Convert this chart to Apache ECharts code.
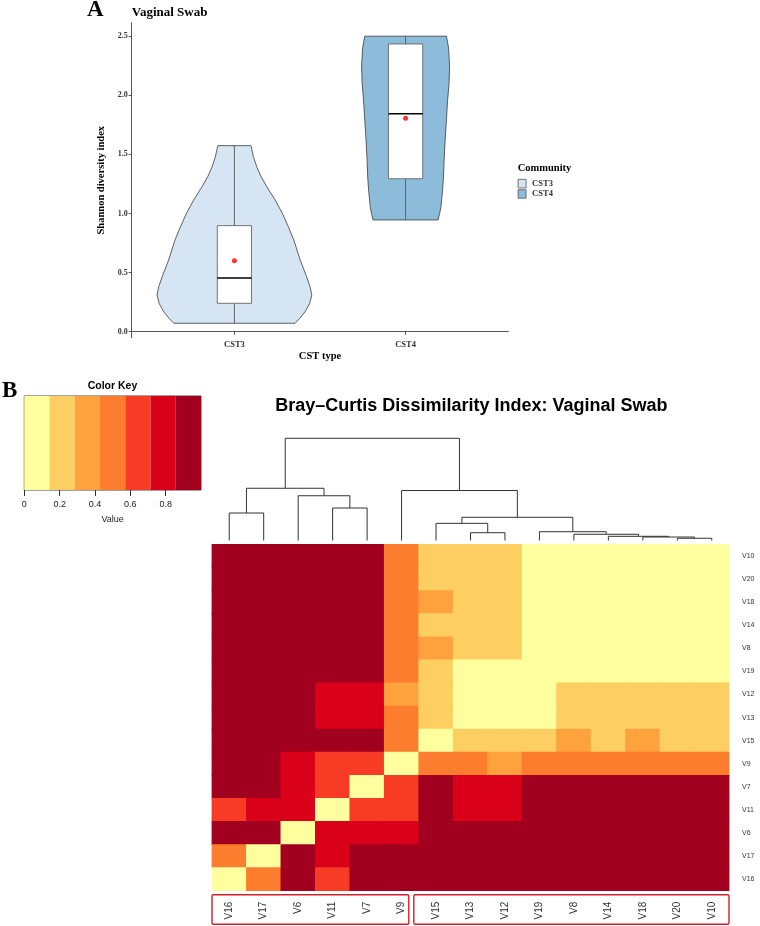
<!DOCTYPE html>
<html><head><meta charset="utf-8">
<script src="https://cdn.jsdelivr.net/npm/echarts@6/dist/echarts.min.js"></script>
<style>html,body{margin:0;padding:0;background:#fff}#c{width:760px;height:926px}</style>
</head><body><div id="c"></div>
<script>
// ---------- Panel A data ----------
const cstGroups = ['CST3', 'CST4'];
// violin outline: [Shannon index, half-width in x units]
const violinCST3 = [[1.574,0.097],[1.481,0.111],[1.396,0.130],[1.311,0.156],[1.227,0.189],[1.114,0.238],[1.002,0.280],[0.888,0.315],[0.776,0.347],[0.607,0.384],[0.465,0.422],[0.381,0.442],[0.310,0.452],[0.240,0.440],[0.169,0.413],[0.113,0.382],[0.071,0.354]];
const violinCST4 = [[2.500,0.239],[2.400,0.251],[2.250,0.257],[2.100,0.254],[1.950,0.245],[1.800,0.239],[1.620,0.231],[1.450,0.225],[1.300,0.221],[1.200,0.216],[1.060,0.207],[1.000,0.199],[0.945,0.190]];
// min, q1, median, q3, max
const boxCST3 = [0.071, 0.240, 0.454, 0.897, 1.574];
const boxCST4 = [0.945, 1.294, 1.844, 2.434, 2.500];
const meanShannon = [0.600, 1.805];
const yTicksA = [0, 0.5, 1, 1.5, 2, 2.5];

// ---------- Panel B data ----------
const heatCols = ['V16','V17','V6','V11','V7','V9','V15','V13','V12','V19','V8','V14','V18','V20','V10'];
const heatRows = ['V10','V20','V18','V14','V8','V19','V12','V13','V15','V9','V7','V11','V6','V17','V16'];
const dissim = [
 [0.93,0.93,0.93,0.93,0.93,0.50,0.22,0.22,0.22,0.08,0.08,0.08,0.08,0.08,0.00],
 [0.93,0.93,0.93,0.93,0.93,0.50,0.22,0.22,0.22,0.08,0.08,0.08,0.08,0.00,0.08],
 [0.93,0.93,0.93,0.93,0.93,0.50,0.36,0.22,0.22,0.08,0.08,0.08,0.00,0.08,0.08],
 [0.93,0.93,0.93,0.93,0.93,0.50,0.22,0.22,0.22,0.08,0.08,0.00,0.08,0.08,0.08],
 [0.93,0.93,0.93,0.93,0.93,0.50,0.36,0.22,0.22,0.08,0.00,0.08,0.08,0.08,0.08],
 [0.93,0.93,0.93,0.93,0.93,0.50,0.22,0.08,0.08,0.00,0.08,0.08,0.08,0.08,0.08],
 [0.93,0.93,0.93,0.78,0.78,0.36,0.22,0.08,0.00,0.08,0.22,0.22,0.22,0.22,0.22],
 [0.93,0.93,0.93,0.78,0.78,0.50,0.22,0.00,0.08,0.08,0.22,0.22,0.22,0.22,0.22],
 [0.93,0.93,0.93,0.93,0.93,0.50,0.00,0.22,0.22,0.22,0.36,0.22,0.36,0.22,0.22],
 [0.93,0.93,0.78,0.64,0.64,0.00,0.50,0.50,0.36,0.50,0.50,0.50,0.50,0.50,0.50],
 [0.93,0.93,0.78,0.64,0.00,0.64,0.93,0.78,0.78,0.93,0.93,0.93,0.93,0.93,0.93],
 [0.64,0.78,0.78,0.00,0.64,0.64,0.93,0.78,0.78,0.93,0.93,0.93,0.93,0.93,0.93],
 [0.93,0.93,0.00,0.78,0.78,0.78,0.93,0.93,0.93,0.93,0.93,0.93,0.93,0.93,0.93],
 [0.50,0.00,0.93,0.78,0.93,0.93,0.93,0.93,0.93,0.93,0.93,0.93,0.93,0.93,0.93],
 [0.00,0.50,0.93,0.64,0.93,0.93,0.93,0.93,0.93,0.93,0.93,0.93,0.93,0.93,0.93]
];
const keyBreaks = [0, 1/7, 2/7, 3/7, 4/7, 5/7, 6/7, 1];
const keyTicks = [0, 0.2, 0.4, 0.6, 0.8];
// column dendrogram merges: [child A, child B, height]; 'mN' = N-th merge
const dendroMerges = [
 ['V20','V10',0.022], ['V18','m0',0.034], ['V14','m1',0.041], ['V8','m2',0.061],
 ['V19','m3',0.086], ['V13','V12',0.076], ['V15','m5',0.168], ['m6','m4',0.227],
 ['V9','m7',0.489], ['V11','V7',0.318], ['V6','m9',0.438], ['V16','V17',0.269],
 ['m11','m10',0.511], ['m12','m8',1.0]
];
const labelGroups = [6, 9];

// ---------- styles ----------
const keyColors = ['#FFFF9F','#FDCF63','#FDA23D','#FC7D2E','#F83B24','#DA0019','#A1001F'];
const violinFill = ['#D5E5F4', '#8DBCDA'];
const SERIF = '"Liberation Serif","Times New Roman",serif';
const SANS = '"Liberation Sans",Arial,sans-serif';

// dendrogram segments from merges
const nodes = {};
heatCols.forEach((c, i) => nodes[c] = {x: i, h: 0});
const dendroSegs = [];
dendroMerges.forEach((m, i) => {
  const a = nodes[m[0]], b = nodes[m[1]], h = m[2];
  dendroSegs.push([[a.x, a.h], [a.x, h], [b.x, h], [b.x, b.h]]);
  nodes['m' + i] = {x: (a.x + b.x) / 2, h: h};
});

const heatData = [];
heatRows.forEach((r, ri) => heatCols.forEach((c, ci) => heatData.push([ci, ri, dissim[ri][ci]])));

function violinRender(profile, gx, fill) {
  return function (params, api) {
    const left = profile.map(p => api.coord([gx - p[1], p[0]]));
    const right = profile.map(p => api.coord([gx + p[1], p[0]])).reverse();
    return {type: 'polygon', shape: {points: left.concat(right)},
      style: {fill: fill, stroke: '#3a3a3a', lineWidth: 0.8}};
  };
}
function boxRender(params, api) {
  const gx = api.value(0), hw = 0.1;
  const mn = api.value(1), q1 = api.value(2), md = api.value(3), q3 = api.value(4), mx = api.value(5);
  const c = (x, y) => api.coord([x, y]);
  const pTL = c(gx - hw, q3), pBR = c(gx + hw, q1);
  return {type: 'group', children: [
    {type: 'line', shape: {x1: c(gx, mx)[0], y1: c(gx, mx)[1], x2: c(gx, q3)[0], y2: c(gx, q3)[1]}, style: {stroke: '#555', lineWidth: 0.9}},
    {type: 'line', shape: {x1: c(gx, q1)[0], y1: c(gx, q1)[1], x2: c(gx, mn)[0], y2: c(gx, mn)[1]}, style: {stroke: '#555', lineWidth: 0.9}},
    {type: 'rect', shape: {x: pTL[0], y: pTL[1], width: pBR[0] - pTL[0], height: pBR[1] - pTL[1]}, style: {fill: '#fff', stroke: '#666', lineWidth: 0.9}},
    {type: 'line', shape: {x1: c(gx - hw, md)[0], y1: c(gx - hw, md)[1], x2: c(gx + hw, md)[0], y2: c(gx + hw, md)[1]}, style: {stroke: '#000', lineWidth: 1.4}}
  ]};
}

const chart = echarts.init(document.getElementById('c'), null, {renderer: 'canvas'});
const option = {
  animation: false,
  backgroundColor: '#fff',
  grid: [
    {left: 131.7, top: 22.7, width: 376.6, height: 315},
    {left: 24.3, top: 396, width: 176.7, height: 94, show: true, borderColor: '#444', borderWidth: 1, backgroundColor: 'transparent'},
    {left: 212, top: 438.3, width: 517, height: 102.2},
    {left: 212, top: 544.5, width: 517, height: 346.2}
  ],
  xAxis: [
    {type: 'value', gridIndex: 0, min: 0.4, max: 2.6,
      axisLine: {show: true, lineStyle: {color: '#555', width: 1}},
      axisTick: {show: true, customValues: [1, 2], length: 3, lineStyle: {color: '#555'}},
      axisLabel: {customValues: [1, 2], formatter: v => cstGroups[Math.round(v) - 1], fontFamily: SERIF, fontWeight: 'bold', fontSize: 8.5, color: '#333', margin: 3},
      splitLine: {show: false},
      name: 'CST type', nameLocation: 'middle', nameGap: 11,
      nameTextStyle: {fontFamily: SERIF, fontWeight: 'bold', fontSize: 10.5, color: '#000'}},
    {type: 'value', gridIndex: 1, min: 0, max: 1,
      axisLine: {show: false},
      axisTick: {show: true, customValues: keyTicks, length: 6, lineStyle: {color: '#333'}},
      axisLabel: {customValues: keyTicks, formatter: v => String(v), fontFamily: SANS, fontSize: 9, color: '#222', margin: 10},
      splitLine: {show: false},
      name: 'Value', nameLocation: 'middle', nameGap: 25,
      nameTextStyle: {fontFamily: SANS, fontSize: 9, color: '#222'}},
    {type: 'value', gridIndex: 2, min: -0.5, max: 14.5, show: false},
    {type: 'category', gridIndex: 3, data: heatCols, position: 'bottom',
      axisLine: {show: false}, axisTick: {show: false},
      axisLabel: {rotate: 90, fontFamily: SANS, fontSize: 10, color: '#333', margin: 11}}
  ],
  yAxis: [
    {type: 'value', gridIndex: 0, min: -0.051, max: 2.614,
      axisLine: {show: true, lineStyle: {color: '#555', width: 1}},
      axisTick: {show: true, customValues: yTicksA, length: 3, lineStyle: {color: '#555'}},
      axisLabel: {customValues: yTicksA, formatter: v => v.toFixed(1), fontFamily: SERIF, fontWeight: 'bold', fontSize: 8, color: '#333', margin: 4},
      splitLine: {show: false},
      name: 'Shannon diversity index', nameLocation: 'middle', nameGap: 25,
      nameTextStyle: {fontFamily: SERIF, fontWeight: 'bold', fontSize: 10.5, color: '#000'}},
    {type: 'value', gridIndex: 1, min: 0, max: 1, show: false},
    {type: 'value', gridIndex: 2, min: 0, max: 1, show: false},
    {type: 'category', gridIndex: 3, data: heatRows, inverse: true, position: 'right',
      axisLine: {show: false}, axisTick: {show: false},
      axisLabel: {fontFamily: SANS, fontSize: 7, color: '#333', margin: 13}}
  ],
  legend: {
    data: cstGroups, orient: 'vertical', left: 517.7, top: 179, padding: 0,
    itemWidth: 8, itemHeight: 8.5, itemGap: 1, icon: 'rect',
    itemStyle: {borderColor: '#555', borderWidth: 0.8},
    textStyle: {fontFamily: SERIF, fontWeight: 'bold', fontSize: 8.5, color: '#333', padding: [0, 0, 0, 1]}
  },
  visualMap: {
    type: 'piecewise', show: false, seriesIndex: 6, dimension: 2,
    pieces: keyColors.map((col, i) => ({gte: keyBreaks[i], lt: keyBreaks[i + 1] + (i === keyColors.length - 1 ? 0.01 : 0), color: col}))
  },
  series: [
    {name: cstGroups[0], type: 'custom', xAxisIndex: 0, yAxisIndex: 0, data: [[1, 0.8]],
      itemStyle: {color: violinFill[0]}, renderItem: violinRender(violinCST3, 1, violinFill[0]), silent: true, z: 2},
    {name: cstGroups[1], type: 'custom', xAxisIndex: 0, yAxisIndex: 0, data: [[2, 1.7]],
      itemStyle: {color: violinFill[1]}, renderItem: violinRender(violinCST4, 2, violinFill[1]), silent: true, z: 2},
    {type: 'custom', xAxisIndex: 0, yAxisIndex: 0, z: 3, silent: true,
      data: [[1].concat(boxCST3), [2].concat(boxCST4)], renderItem: boxRender},
    {type: 'scatter', xAxisIndex: 0, yAxisIndex: 0, z: 4, silent: true, symbolSize: 5,
      itemStyle: {color: '#FF0000'}, data: meanShannon.map((m, i) => [i + 1, m])},
    {type: 'custom', xAxisIndex: 1, yAxisIndex: 1, silent: true,
      data: keyColors.map((c, i) => [keyBreaks[i], keyBreaks[i + 1]]),
      renderItem: function (params, api) {
        const p1 = api.coord([api.value(0), 1]), p2 = api.coord([api.value(1), 0]);
        return {type: 'rect', shape: {x: p1[0], y: p1[1], width: p2[0] - p1[0], height: p2[1] - p1[1]},
          style: {fill: keyColors[params.dataIndex]}};
      }},
    {type: 'custom', xAxisIndex: 2, yAxisIndex: 2, silent: true,
      data: dendroSegs.map((s, i) => [i]),
      renderItem: function (params, api) {
        const seg = dendroSegs[params.dataIndex];
        return {type: 'polyline', shape: {points: seg.map(p => api.coord(p))},
          style: {stroke: '#333', lineWidth: 1, fill: null}};
      }},
    {type: 'custom', xAxisIndex: 3, yAxisIndex: 3, data: heatData, silent: true,
      encode: {x: 0, y: 1},
      renderItem: function (params, api) {
        const c = api.coord([api.value(0), api.value(1)]);
        const s = api.size([1, 1]);
        const ov = 0.4;
        return {type: 'rect', shape: {x: c[0] - s[0] / 2 - ov, y: c[1] - s[1] / 2 - ov, width: s[0] + 2 * ov, height: s[1] + 2 * ov},
          style: {fill: api.visual('color')}};
      }}
  ],
  graphic: [
    {type: 'text', x: 87, y: 10.5, style: {text: 'A', font: 'bold 23px ' + SERIF, fill: '#000', verticalAlign: 'middle'}},
    {type: 'text', x: 131.7, y: 13, style: {text: 'Vaginal Swab', font: 'bold 13px ' + SERIF, fill: '#000', verticalAlign: 'middle'}},
    {type: 'text', x: 517.7, y: 168.5, style: {text: 'Community', font: 'bold 10.5px ' + SERIF, fill: '#000', verticalAlign: 'middle'}},
    {type: 'text', x: 2, y: 391, style: {text: 'B', font: 'bold 23px ' + SERIF, fill: '#000', verticalAlign: 'middle'}},
    {type: 'text', x: 112.5, y: 386, style: {text: 'Color Key', font: 'bold 10.5px ' + SANS, fill: '#000', align: 'center', verticalAlign: 'middle'}},
    {type: 'text', x: 471.4, y: 406, style: {text: 'Bray\u2013Curtis Dissimilarity Index: Vaginal Swab', font: 'bold 18px ' + SANS, fill: '#000', align: 'center', verticalAlign: 'middle'}}
  ]
};
chart.setOption(option);

// red boxes around column label groups, placed from the category axis
const px = i => chart.convertToPixel({xAxisIndex: 3}, heatCols[i]);
const bw = px(1) - px(0);
const rowH = chart.convertToPixel({yAxisIndex: 3}, heatRows[1]) - chart.convertToPixel({yAxisIndex: 3}, heatRows[0]);
const yb = chart.convertToPixel({yAxisIndex: 3}, heatRows[heatRows.length - 1]) + rowH / 2;
const g1End = labelGroups[0] - 1, g2Start = labelGroups[0], g2End = labelGroups[0] + labelGroups[1] - 1;
const b1x = px(0) - bw / 2, b1r = px(g1End) + bw / 2 - 10;
const b2x = px(g2Start) - bw / 2 - 5, b2r = px(g2End) + bw / 2;
const by = yb + 4, bh = 924.3 - by;
chart.setOption({graphic: [
  {id: 'box1', type: 'rect', shape: {x: b1x, y: by, width: b1r - b1x, height: bh, r: 1.5}, style: {fill: 'none', stroke: '#D0202A', lineWidth: 1.4}},
  {id: 'box2', type: 'rect', shape: {x: b2x, y: by, width: b2r - b2x, height: bh, r: 1.5}, style: {fill: 'none', stroke: '#D0202A', lineWidth: 1.4}}
]});
</script>
</body></html>
